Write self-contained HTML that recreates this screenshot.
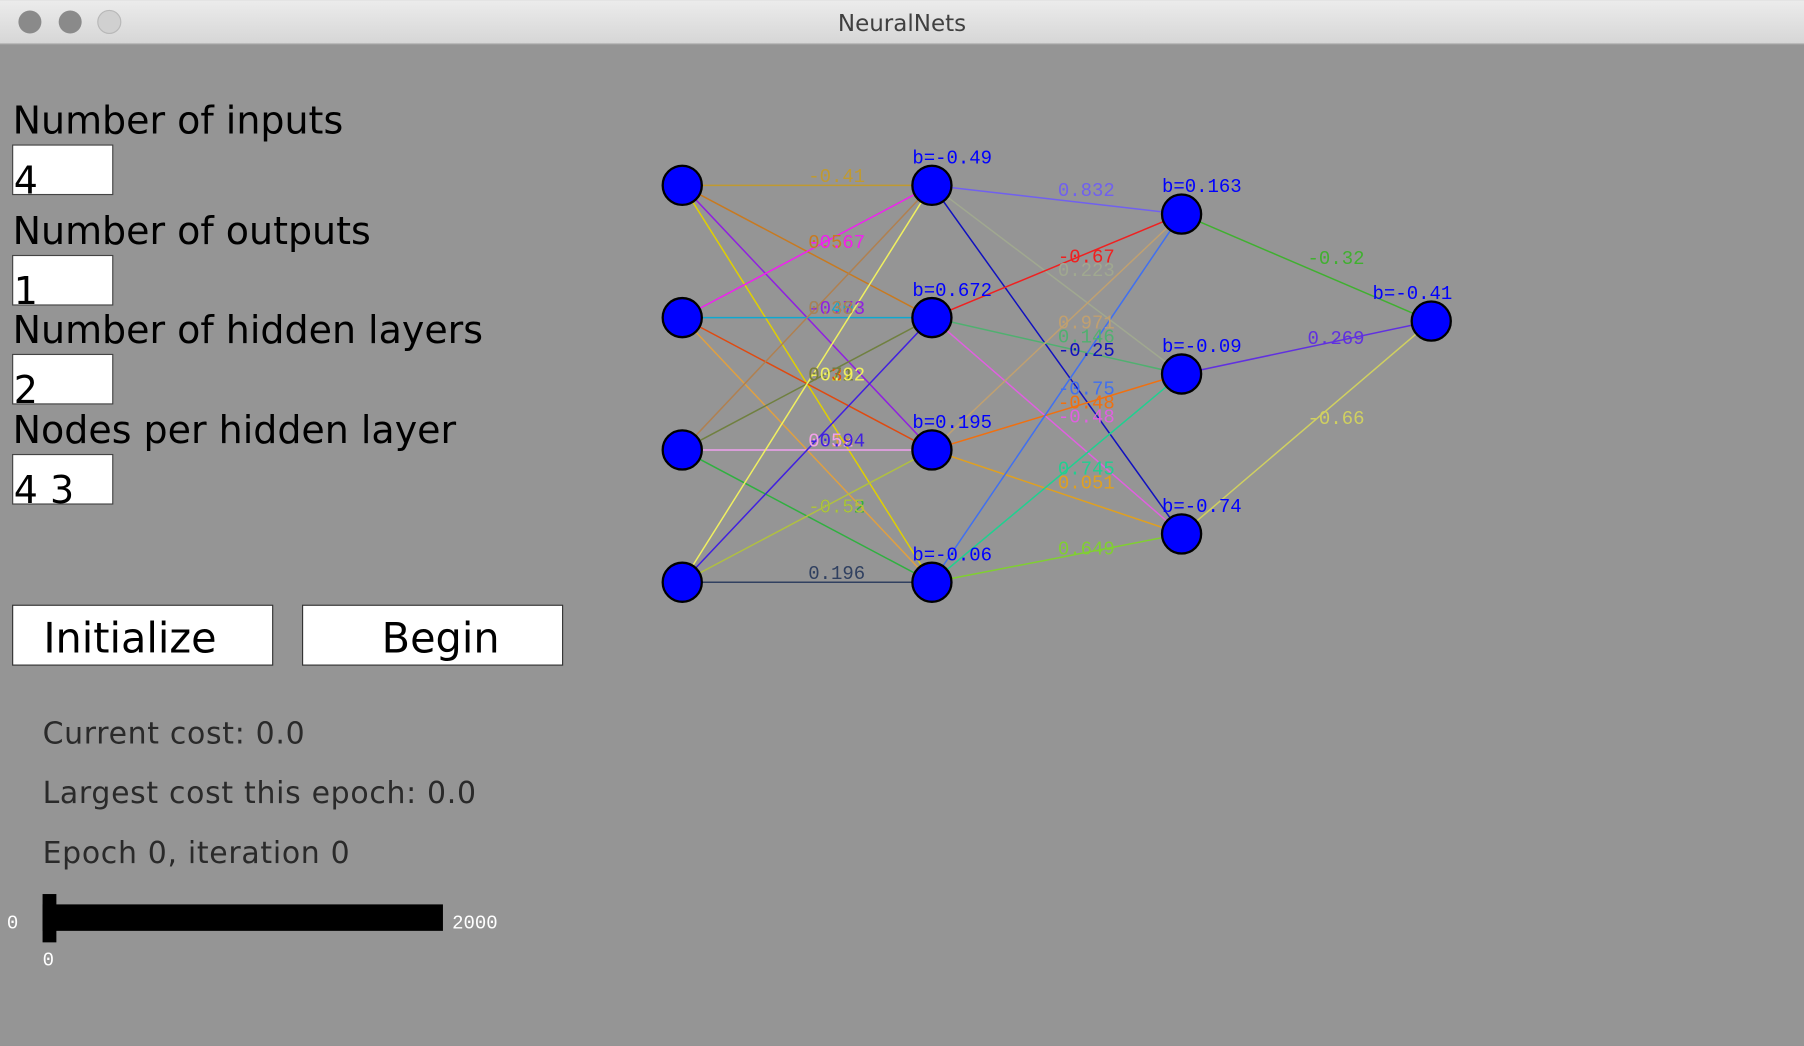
<!DOCTYPE html>
<html><head><meta charset="utf-8">
<style>
html,body{margin:0;padding:0;width:1804px;height:1046px;overflow:hidden;background:#959595;}
svg{display:block}
.ui{font-family:"DejaVu Sans","Liberation Sans",sans-serif;}
.mono{font-family:"Liberation Mono","DejaVu Sans Mono",monospace;font-size:16.5px;}
</style></head>
<body>
<svg id="root" width="1804" height="1046" viewBox="0 0 1568 909" xmlns="http://www.w3.org/2000/svg">
  <defs>
    <linearGradient id="tb" x1="0" y1="0" x2="0" y2="1">
      <stop offset="0" stop-color="#ececec"/><stop offset="1" stop-color="#d6d6d6"/>
    </linearGradient>
  </defs>
  <rect x="0" y="0" width="1568" height="909" fill="#959595"/>
  <g>
    <rect x="0" y="0" width="1568" height="38" fill="url(#tb)"/>
    <line x1="0" y1="38" x2="1568" y2="38" stroke="#b0b0b0"/>
    <circle cx="26" cy="19" r="10" fill="#8a8a8a"/>
    <circle cx="61" cy="19" r="10" fill="#8a8a8a"/>
    <circle cx="95" cy="19" r="10" fill="#d0d0d0" stroke="#b8b8b8"/>
    <text x="784" y="27" text-anchor="middle" class="ui" font-size="20" fill="#404040">NeuralNets</text>
  </g>

  <g class="ui" fill="#000" font-size="33">
    <text x="11" y="116">Number of inputs</text>
    <rect x="11" y="126" width="87" height="43" fill="#fff" stroke="#444"/>
    <text x="12" y="168">4</text>
    <text x="11" y="212">Number of outputs</text>
    <rect x="11" y="222" width="87" height="43" fill="#fff" stroke="#444"/>
    <text x="12" y="264">1</text>
    <text x="11" y="298">Number of hidden layers</text>
    <rect x="11" y="308" width="87" height="43" fill="#fff" stroke="#444"/>
    <text x="12" y="350">2</text>
    <text x="11" y="385">Nodes per hidden layer</text>
    <rect x="11" y="395" width="87" height="43" fill="#fff" stroke="#444"/>
    <text x="12" y="437">4 3</text>
  </g>
  <g class="ui" font-size="36">
    <rect x="11" y="526" width="226" height="52" fill="#fff" stroke="#333"/>
    <text x="113" y="567" text-anchor="middle">Initialize</text>
    <rect x="263" y="526" width="226" height="52" fill="#fff" stroke="#333"/>
    <text x="383" y="567" text-anchor="middle">Begin</text>
  </g>
  <g class="ui" font-size="26" fill="#2a2a2a" letter-spacing="0.6">
    <text x="37" y="646">Current cost: 0.0</text>
    <text x="37" y="698">Largest cost this epoch: 0.0</text>
    <text x="37" y="750">Epoch 0, iteration 0</text>
  </g>
  <g>
    <rect x="37" y="786" width="348" height="23" fill="#000"/>
    <rect x="37" y="777" width="12" height="42" fill="#000"/>
    <g class="mono" fill="#fff" font-size="15">
      <text x="6" y="807">0</text>
      <text x="393" y="807">2000</text>
      <text x="37" y="839">0</text>
    </g>
  </g>
  <g id="net"></g>
</svg>
<script>
const layerX = [593, 810, 1027, 1244];
const layerY = [[161,276,391,506],[161,276,391,506],[186,325,464],[279]];
const w1 = [["-0.41","0.56","-0.73","0.22"],["-0.67","0.40","0.31","0.18"],["0.38","0.71","0.52","-0.52"],["-0.92","-0.94","-0.55","0.196"]];
const c1 = [["#c09a30","#c87a20","#9020e0","#e0d000"],["#f020f0","#10a8d0","#e04a10","#e0a040"],["#b08050","#708040","#f0a0f0","#30b040"],["#f0f060","#4020e0","#b0c040","#304060"]];
const w2 = [["0.832","0.223","-0.25"],["-0.67","0.146","-0.48"],["0.971","-0.48","0.051"],["-0.75","0.745","0.649"]];
const c2 = [["#7060f0","#a0a890","#1010c0"],["#f02020","#50b070","#e060e0"],["#c0a070","#f07010","#e0a020"],["#4070f0","#20d090","#80d030"]];
const w3 = [["-0.32"],["0.269"],["-0.66"]];
const c3 = [["#40b030"],["#6030e0"],["#d0d060"]];
const biases = [[], ["-0.49","0.672","0.195","-0.06"], ["0.163","-0.09","-0.74"], ["-0.41"]];
const weights = [w1, w2, w3];
const colors = [c1, c2, c3];
const NS = "http://www.w3.org/2000/svg";
const net = document.getElementById('net');
function mk(tag, attrs){const e=document.createElementNS(NS,tag);for(const k in attrs)e.setAttribute(k,attrs[k]);return e;}
const edges = mk('g',{}); const labels = mk('g',{class:'mono'}); const nodes = mk('g',{});
net.appendChild(edges); net.appendChild(labels); net.appendChild(nodes);
for(let l=0;l<3;l++){
  for(let i=0;i<layerY[l].length;i++){
    for(let j=0;j<layerY[l+1].length;j++){
      const x1=layerX[l], y1=layerY[l][i], x2=layerX[l+1], y2=layerY[l+1][j];
      const col=colors[l][i][j];
      const ln=mk('line',{x1:x1,y1:y1,x2:x2,y2:y2,stroke:col,'stroke-width':1.3});
      
      
      edges.appendChild(ln);
      const t=mk('text',{x:(x1+x2)/2+1,y:(y1+y2)/2-3,fill:col});
      t.textContent=weights[l][i][j];
      
      
      labels.appendChild(t);
    }
  }
}
for(let l=0;l<4;l++){
  for(let i=0;i<layerY[l].length;i++){
    const c=mk('circle',{cx:layerX[l],cy:layerY[l][i],r:17,fill:'#0000ff',stroke:'#000','stroke-width':2});
    
    
    nodes.appendChild(c);
    if(l>0){
      const bx = (l===3) ? layerX[l]-51 : layerX[l]-17;
      const t=mk('text',{x:bx,y:layerY[l][i]-19,fill:'#0000ff',class:'mono'});
      t.textContent='b='+biases[l][i];
      
      
      nodes.appendChild(t);
    }
  }
}
</script>
</body></html>
